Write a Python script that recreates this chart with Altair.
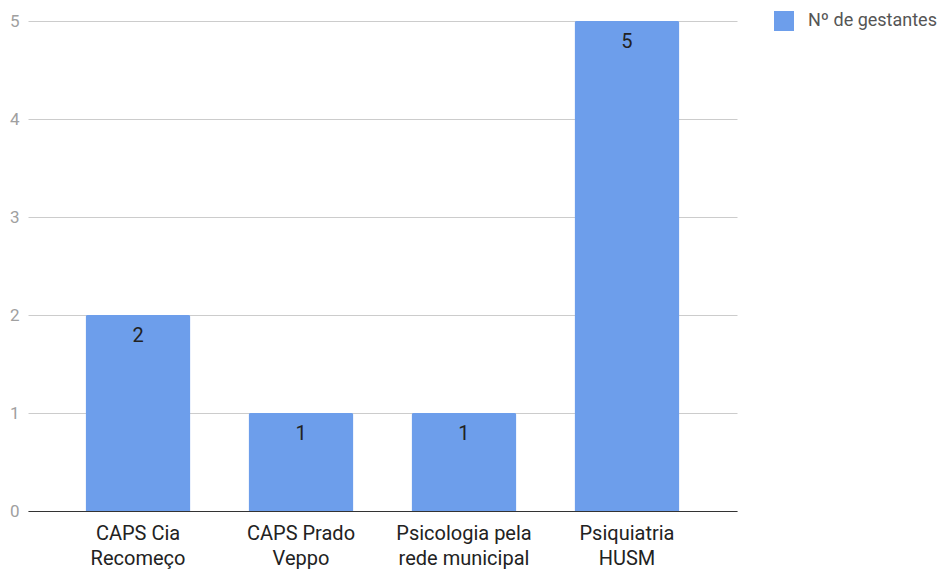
import altair as alt
import pandas as pd

# Services used by pregnant women and how many used each
categories = ["CAPS Cia\nRecomeço", "CAPS Prado\nVeppo", "Psicologia pela\nrede municipal", "Psiquiatria\nHUSM"]
counts = [2, 1, 1, 5]
series_name = "Nº de gestantes"

df = pd.DataFrame({"servico": categories, "n": counts, "serie": series_name})

base = alt.Chart(df).encode(
    x=alt.X(
        "servico:N",
        sort=categories,
        title=None,
        scale=alt.Scale(paddingInner=0.356, paddingOuter=0.353),
        axis=alt.Axis(
            labelAngle=0,
            labelExpr="split(datum.label, '\\n')",
            labelFontSize=20,
            labelColor="#222222",
            labelFont="Roboto",
            labelLineHeight=25,
            labelPadding=12,
            labelBaseline="top",
            ticks=False,
            domainColor="#333333",
            domainWidth=1,
            grid=False,
        ),
    ),
    y=alt.Y(
        "n:Q",
        title=None,
        scale=alt.Scale(domain=[0, 5], nice=False),
        axis=alt.Axis(
            values=[0, 1, 2, 3, 4, 5],
            format="d",
            labelFontSize=17,
            labelColor="#a0a0a0",
            labelFont="Roboto",
            labelPadding=9,
            ticks=False,
            domain=False,
            gridColor="#cccccc",
            gridWidth=1,
        ),
    ),
)

bars = base.mark_bar(
    cornerRadiusTopLeft=2, cornerRadiusTopRight=2
).encode(
    color=alt.Color(
        "serie:N",
        scale=alt.Scale(range=["#6d9eeb"]),
        legend=alt.Legend(
            title=None,
            orient="none",
            legendX=746,
            legendY=-10,
            symbolType="square",
            symbolSize=400,
            symbolStrokeWidth=0,
            labelFontSize=18,
            labelColor="#555555",
            labelFont="Roboto",
            labelOffset=14,
        ),
    )
)

labels = base.mark_text(
    baseline="middle", dy=21, fontSize=20, font="Roboto", color="#222222"
).encode(text="n:Q")

chart = (
    (bars + labels)
    .properties(
        width=709,
        height=490,
        padding={"left": 28, "top": 21, "right": 205, "bottom": 58},
        autosize=alt.AutoSizeParams(type="none"),
        view=alt.ViewBackground(stroke="transparent", strokeOpacity=0, strokeWidth=0),
    )
    .configure_view(stroke="transparent", strokeOpacity=0, strokeWidth=0)
    .configure_axisY(domain=False)
    .configure_axisX(grid=False)
    .configure(background="white")
)

chart.save("out.html", embed_options={"renderer": "svg", "actions": False})
